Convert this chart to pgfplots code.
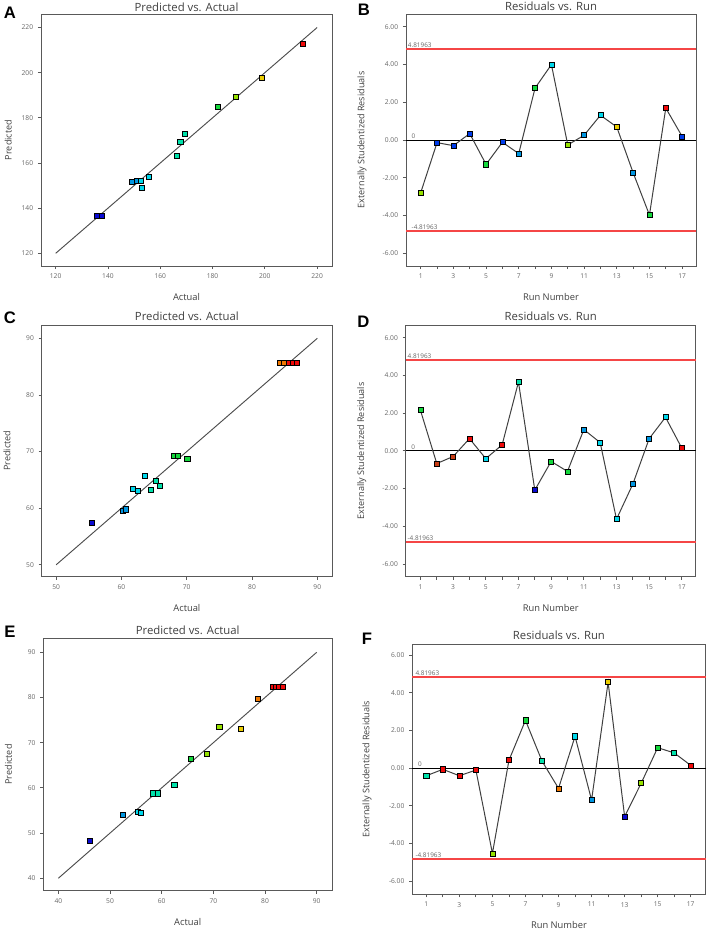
\documentclass[border=0pt]{standalone}
\usepackage{pgfplots}
\usepackage{pgfplotstable}
\pgfplotsset{compat=1.18}
\usepackage{fontspec}
\setmainfont{Open Sans}
\newfontfamily\letterfont{Liberation Sans}

\definecolor{cK}{RGB}{10,10,210}
\definecolor{cB}{RGB}{0,60,235}
\definecolor{cS}{RGB}{0,150,225}
\definecolor{cC}{RGB}{0,215,235}
\definecolor{cT}{RGB}{0,225,170}
\definecolor{cG}{RGB}{20,215,60}
\definecolor{cY}{RGB}{150,225,0}
\definecolor{cW}{RGB}{235,205,0}
\definecolor{cO}{RGB}{240,120,0}
\definecolor{cR}{RGB}{240,10,10}
\definecolor{cN}{RGB}{200,60,20}
\definecolor{refred}{RGB}{245,70,70}

\pgfplotstableread{
x y c
135.8 136.8 k
137.5 136.8 k
149.3 151.8 s
151.1 152.3 s
152.7 152.2 c
152.8 149.2 c
155.8 154.0 c
166.3 163.3 t
167.7 169.5 t
169.5 172.9 t
182.0 185.0 g
188.8 189.3 y
198.7 197.7 w
214.6 212.6 r
}\dataA

\pgfplotstableread{
x y c
1 -2.79 y
2 -0.14 b
3 -0.30 b
4 0.34 b
5 -1.29 g
6 -0.12 b
7 -0.72 s
8 2.75 g
9 3.99 c
10 -0.26 y
11 0.25 s
12 1.31 c
13 0.69 w
14 -1.73 s
15 -3.97 g
16 1.69 r
17 0.19 b
}\dataB

\pgfplotstableread{
x y c
55.46 57.35 k
60.15 59.6 s
60.7 59.8 s
61.7 63.4 c
62.45 63.05 c
63.57 65.7 c
64.54 63.2 t
65.26 64.9 t
65.9 63.9 t
68.0 69.2 g
68.6 69.2 g
70.1 68.65 g
84.2 85.6 o
84.9 85.6 o
85.6 85.6 r
86.2 85.6 r
86.8 85.6 r
}\dataC

\pgfplotstableread{
x y c
1 2.15 g
2 -0.67 n
3 -0.30 n
4 0.65 r
5 -0.41 c
6 0.32 r
7 3.65 t
8 -2.08 k
9 -0.56 g
10 -1.09 g
11 1.13 s
12 0.44 c
13 -3.62 c
14 -1.76 s
15 0.65 s
16 1.78 c
17 0.14 r
}\dataD

\pgfplotstableread{
x y c
46.1 48.2 k
52.45 54.0 s
55.35 54.75 c
56.0 54.5 c
58.2 58.8 t
59.2 58.8 t
62.45 60.6 t
65.6 66.5 g
68.65 67.6 y
71.16 73.55 y
75.35 73.0 w
78.65 79.75 o
81.6 82.4 r
82.1 82.4 r
82.7 82.4 r
83.4 82.4 r
}\dataE

\pgfplotstableread{
x y c
1 -0.41 t
2 -0.07 r
3 -0.41 r
4 -0.11 r
5 -4.53 y
6 0.41 r
7 2.53 g
8 0.37 t
9 -1.08 o
10 1.68 c
11 -1.70 s
12 4.55 w
13 -2.57 k
14 -0.81 y
15 1.08 g
16 0.80 t
17 0.14 r
}\dataF

\tikzset{reflab/.style={anchor=south west, font=\fontsize{4.8}{5}\selectfont, text=black!60, inner sep=1pt}}

\pgfplotsset{
  every axis title shift=0pt,
  panel/.style={scale only axis, anchor=north west, clip=false,
    axis line style={draw=black!65, line width=0.7pt},
    tick align=outside, xtick pos=left, ytick pos=left,
    major tick length=2.4pt,
    every tick/.style={draw=black!65, line width=0.6pt},
    ticklabel style={font=\fontsize{5}{6}\selectfont, text=black!60},
    xlabel style={font=\fontsize{7}{8}\selectfont, text=black!75, anchor=center},
    ylabel style={font=\fontsize{6.8}{8}\selectfont, text=black!75, anchor=center},
    title style={font=\fontsize{8.5}{9}\selectfont, text=black!75, anchor=center},
    /pgf/number format/assume math mode=true,
  },
  resid/.style={panel, xmin=0.1, xmax=17.85, ymin=-6.67, ymax=6.67,
    xtick={1,...,17}, xticklabels={1,,3,,5,,7,,9,,11,,13,,15,,17},
    ytick={-6,-4,-2,0,2,4,6},
    yticklabel style={/pgf/number format/.cd, fixed, fixed zerofill, precision=2},
    xlabel={Run Number}, ylabel={Externally Studentized Residuals},
    title={Residuals vs. Run}},
  pva/.style={panel, xlabel={Actual}, ylabel={Predicted}, title={Predicted vs. Actual}},
  sq/.style={scatter, only marks, scatter src=explicit symbolic, mark size=1.9pt,
    scatter/classes={
      k={mark=square*, draw=black, fill=cK},
      b={mark=square*, draw=black, fill=cB},
      s={mark=square*, draw=black, fill=cS},
      c={mark=square*, draw=black, fill=cC},
      t={mark=square*, draw=black, fill=cT},
      g={mark=square*, draw=black, fill=cG},
      y={mark=square*, draw=black, fill=cY},
      w={mark=square*, draw=black, fill=cW},
      o={mark=square*, draw=black, fill=cO},
      r={mark=square*, draw=black, fill=cR},
      n={mark=square*, draw=black, fill=cN}},
    mark options={line width=0.5pt}},
  rline/.style={refred, line width=1.1pt, forget plot},
}

\begin{document}
\begin{tikzpicture}
\path[use as bounding box] (0,0) rectangle (531pt,-697.5pt);

% ---------- A ----------
\begin{axis}[pva, at={(30.75pt,-10.5pt)}, width=218.25pt, height=189pt,
  xmin=114.4, xmax=225.7, ymin=114.4, ymax=226,
  xtick={120,140,...,220}, ytick={120,140,...,220},
  title style={at={(axis description cs:0.5,1.028)}},
  xlabel style={at={(axis description cs:0.5,-0.123)}},
  ylabel style={at={(axis description cs:-0.113,0.5)}}]
\addplot[black!70, line width=0.7pt] coordinates {(120,120) (220,220)};
\addplot[sq] table[x=x, y=y, meta=c] {\dataA};
\end{axis}

% ---------- B ----------
\begin{axis}[resid, at={(304.5pt,-10.5pt)}, width=217.5pt, height=189pt,
  title style={at={(axis description cs:0.5,1.032)}},
  xlabel style={at={(axis description cs:0.5,-0.123)}},
  ylabel style={at={(axis description cs:-0.152,0.5)}}]
\addplot[rline] coordinates {(0.1,4.81963) (17.85,4.81963)};
\addplot[rline] coordinates {(0.1,-4.81963) (17.85,-4.81963)};
\addplot[black, line width=0.7pt, forget plot] coordinates {(0.1,0) (17.85,0)};
\node[reflab] at (axis cs:0.12,4.81963) {4.81963};
\node[reflab] at (axis cs:0.35,-4.81963) {-4.81963};
\node[reflab] at (axis cs:0.35,0) {0};
\addplot[black!75, line width=0.75pt] table[x=x, y=y] {\dataB};
\addplot[sq] table[x=x, y=y, meta=c] {\dataB};
\end{axis}

% ---------- C ----------
\begin{axis}[pva, at={(31.3pt,-243.75pt)}, width=217.7pt, height=188.8pt,
  xmin=47.8, xmax=92.25, ymin=47.9, ymax=92.35,
  xtick={50,60,...,90}, ytick={50,60,...,90},
  title style={at={(axis description cs:0.5,1.033)}},
  xlabel style={at={(axis description cs:0.5,-0.123)}},
  ylabel style={at={(axis description cs:-0.12,0.5)}}]
\addplot[black!70, line width=0.7pt] coordinates {(50,50) (90,90)};
\addplot[sq] table[x=x, y=y, meta=c] {\dataC};
\end{axis}

% ---------- D ----------
\begin{axis}[resid, at={(304.3pt,-243.75pt)}, width=217.5pt, height=188.8pt,
  title style={at={(axis description cs:0.5,1.033)}},
  xlabel style={at={(axis description cs:0.5,-0.123)}},
  ylabel style={at={(axis description cs:-0.152,0.5)}}]
\addplot[rline] coordinates {(0.1,4.81963) (17.85,4.81963)};
\addplot[rline] coordinates {(0.1,-4.81963) (17.85,-4.81963)};
\addplot[black, line width=0.7pt, forget plot] coordinates {(0.1,0) (17.85,0)};
\node[reflab] at (axis cs:0.12,4.81963) {4.81963};
\node[reflab] at (axis cs:0.12,-4.81963) {-4.81963};
\node[reflab] at (axis cs:0.35,0) {0};
\addplot[black!75, line width=0.75pt] table[x=x, y=y] {\dataD};
\addplot[sq] table[x=x, y=y, meta=c] {\dataD};
\end{axis}

% ---------- E ----------
\begin{axis}[pva, at={(32.5pt,-478.7pt)}, width=216.5pt, height=189.3pt,
  xmin=37.1, xmax=92.96, ymin=37.26, ymax=93.1,
  xtick={40,50,...,90}, ytick={40,50,...,90},
  title style={at={(axis description cs:0.5,1.033)}},
  xlabel style={at={(axis description cs:0.5,-0.123)}},
  ylabel style={at={(axis description cs:-0.121,0.5)}}]
\addplot[black!70, line width=0.7pt] coordinates {(40,40) (90,90)};
\addplot[sq] table[x=x, y=y, meta=c] {\dataE};
\end{axis}

% ---------- F ----------
\begin{axis}[resid, at={(309.2pt,-483pt)}, width=220pt, height=187.7pt,
  xmin=0.15, xmax=17.9, ymin=-6.7, ymax=6.58,
  title style={at={(axis description cs:0.5,1.036)}},
  xlabel style={at={(axis description cs:0.5,-0.123)}},
  ylabel style={at={(axis description cs:-0.154,0.5)}}]
\addplot[rline] coordinates {(0.15,4.81963) (17.9,4.81963)};
\addplot[rline] coordinates {(0.15,-4.81963) (17.9,-4.81963)};
\addplot[black, line width=0.7pt, forget plot] coordinates {(0.15,0) (17.9,0)};
\node[reflab] at (axis cs:0.25,4.81963) {4.81963};
\node[reflab] at (axis cs:0.25,-4.81963) {-4.81963};
\node[reflab] at (axis cs:0.4,0) {0};
\addplot[black!75, line width=0.75pt] table[x=x, y=y] {\dataF};
\addplot[sq] table[x=x, y=y, meta=c] {\dataF};
\end{axis}

% panel letters
\begin{scope}[every node/.style={font=\letterfont\bfseries\fontsize{12.5}{13}\selectfont, anchor=center, inner sep=0pt}]
\node at (7.5pt,-9.4pt) {A};
\node at (273pt,-7.5pt) {B};
\node at (7.5pt,-238.1pt) {C};
\node at (272.6pt,-241.1pt) {D};
\node at (7.5pt,-474pt) {E};
\node at (275.3pt,-479.3pt) {F};
\end{scope}
\end{tikzpicture}
\end{document}
